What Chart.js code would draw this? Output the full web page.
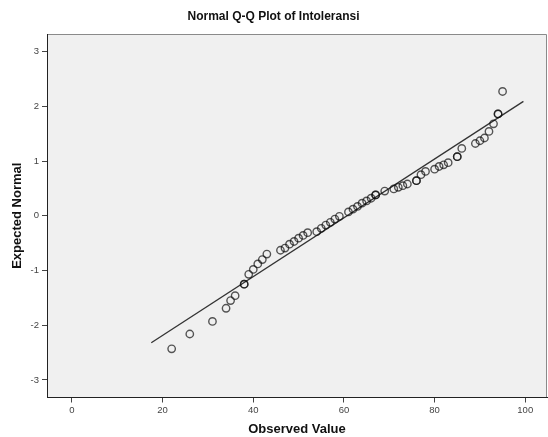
<!DOCTYPE html>
<html>
<head>
<meta charset="utf-8">
<script src="https://cdn.jsdelivr.net/npm/chart.js@4.4.0/dist/chart.umd.min.js"></script>
<style>
  html, body { margin: 0; padding: 0; background: #fff; }
  #wrap { width: 548px; height: 437px; }
</style>
</head>
<body>
<div id="wrap"><canvas id="qq"></canvas></div>
<script>
const observado = [22, 26, 31, 34, 35, 36, 38, 38, 39, 40, 41, 42, 43, 46, 47, 48, 49, 50, 51, 52,
  54, 55, 56, 57, 58, 59, 61, 62, 63, 64, 65, 66, 67, 67, 69, 71, 72, 73, 74, 76, 76, 77, 78,
  80, 81, 82, 83, 85, 85, 86, 89, 90, 91, 92, 93, 94, 94, 95];
const esperado = [-2.43, -2.16, -1.93, -1.69, -1.55, -1.46, -1.25, -1.25, -1.07, -0.98, -0.88, -0.80, -0.70, -0.63, -0.59, -0.52, -0.47, -0.41, -0.36, -0.31,
  -0.29, -0.23, -0.17, -0.12, -0.06, -0.01, 0.07, 0.12, 0.17, 0.23, 0.27, 0.32, 0.38, 0.38, 0.45, 0.49, 0.52, 0.55, 0.58, 0.64, 0.64, 0.75, 0.81,
  0.85, 0.90, 0.93, 0.97, 1.08, 1.08, 1.23, 1.32, 1.37, 1.42, 1.54, 1.68, 1.86, 1.86, 2.27];

// reta de referência (extremos)
const retaX = [17.5, 99.6];
const retaY = [-2.32, 2.09];

const ticksX = [0, 20, 40, 60, 80, 100];
const ticksY = [-3, -2, -1, 0, 1, 2, 3];

const FONTE = "'Liberation Sans', Arial, sans-serif";

const fundoPlot = {
    id: 'fundoPlot',
    beforeDraw(chart) {
        const { ctx, chartArea: a } = chart;
        ctx.save();
        ctx.fillStyle = '#f0f0f0';
        ctx.fillRect(a.left, a.top, a.right - a.left, a.bottom - a.top);
        ctx.strokeStyle = '#8a8a8a';
        ctx.lineWidth = 1;
        ctx.beginPath();
        ctx.moveTo(a.left, a.top + 0.5);
        ctx.lineTo(a.right - 0.5, a.top + 0.5);
        ctx.lineTo(a.right - 0.5, a.bottom);
        ctx.stroke();
        ctx.restore();
    }
};

new Chart(document.getElementById('qq').getContext('2d'), {
    type: 'scatter',
    data: {
        datasets: [
            {
                label: 'Observado',
                data: observado.map((x, i) => ({ x, y: esperado[i] })),
                pointRadius: 3.7,
                pointBorderWidth: 1.4,
                pointBackgroundColor: 'rgba(0,0,0,0)',
                pointBorderColor: 'rgba(10,10,10,0.68)',
                pointHoverRadius: 3.7,
                order: 1
            },
            {
                label: 'Reta',
                type: 'line',
                data: retaX.map((x, i) => ({ x, y: retaY[i] })),
                borderColor: '#333',
                borderWidth: 1.3,
                pointRadius: 0,
                fill: false,
                order: 2
            }
        ]
    },
    plugins: [fundoPlot],
    options: {
        responsive: true,
        maintainAspectRatio: false,
        animation: false,
        layout: { autoPadding: false, padding: { top: 0, right: 1, bottom: 0, left: 0 } },
        plugins: {
            legend: { display: false },
            tooltip: { enabled: false },
            title: {
                display: true,
                text: 'Normal Q-Q Plot of Intoleransi',
                color: '#111',
                font: { family: FONTE, size: 12, weight: 'bold' },
                padding: { top: 9, bottom: 10.6 }
            }
        },
        scales: {
            x: {
                type: 'linear',
                min: -5.5,
                max: 104.8,
                afterFit: (s) => { s.height = 39.5; s.paddingLeft = 0; s.paddingRight = 0; },
                afterBuildTicks: (s) => { s.ticks = ticksX.map(v => ({ value: v })); },
                grid: { drawOnChartArea: false, tickLength: 5, color: '#444', tickWidth: 1 },
                border: { color: '#222', width: 1 },
                ticks: {
                    color: '#444',
                    padding: 2,
                    maxRotation: 0,
                    font: { family: FONTE, size: 9.5 },
                    callback: (v) => String(v)
                },
                title: {
                    display: true,
                    text: 'Observed Value',
                    color: '#111',
                    font: { family: FONTE, size: 13, weight: 'bold' },
                    padding: { top: 0, bottom: 0 }
                }
            },
            y: {
                type: 'linear',
                min: -3.32,
                max: 3.32,
                afterFit: (s) => { s.width = 47; s.paddingTop = 0; s.paddingBottom = 0; },
                afterBuildTicks: (s) => { s.ticks = ticksY.map(v => ({ value: v })); },
                grid: { drawOnChartArea: false, tickLength: 5, color: '#444', tickWidth: 1 },
                border: { color: '#222', width: 1 },
                ticks: {
                    color: '#444',
                    padding: 3,
                    font: { family: FONTE, size: 9.5 },
                    callback: (v) => String(v)
                },
                title: {
                    display: true,
                    text: 'Expected Normal',
                    color: '#111',
                    font: { family: FONTE, size: 13, weight: 'bold' },
                    padding: { top: 10, bottom: 0 }
                }
            }
        }
    }
});
</script>
</body>
</html>
